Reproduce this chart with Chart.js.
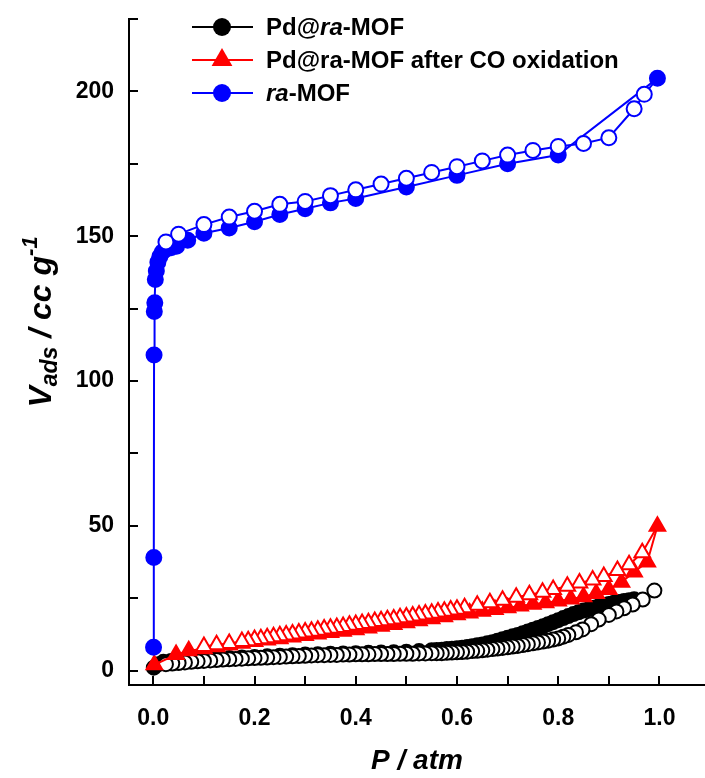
<!DOCTYPE html>
<html>
<head>
<meta charset="utf-8">
<script src="https://cdn.jsdelivr.net/npm/chart.js@4"></script>
<style>
html, body { margin: 0; padding: 0; background: #fff; }
#wrap { width: 705px; height: 778px; }
</style>
</head>
<body>
<div id="wrap"><canvas id="myChart" width="705" height="778"></canvas></div>
<script>
// axis ticks (P / atm and V / cc g-1)
var xTicks = [0, 0.1, 0.2, 0.3, 0.4, 0.5, 0.6, 0.7, 0.8, 0.9, 1.0]
var xLabels = ['0.0', '', '0.2', '', '0.4', '', '0.6', '', '0.8', '', '1.0']
var yTicks = [0, 25, 50, 75, 100, 125, 150, 175, 200, 225]
var yLabels = ['0', '', '50', '', '100', '', '150', '', '200', '']

// ra-MOF, adsorption (filled) and desorption (open)
var raAdsP = [0.0005, 0.001, 0.0015, 0.002, 0.003, 0.004, 0.006, 0.009, 0.013, 0.018, 0.025, 0.035, 0.046, 0.068, 0.1, 0.15, 0.2, 0.25, 0.3, 0.35, 0.4, 0.5, 0.6, 0.7, 0.8, 0.996]
var raAdsV = [8, 39, 109, 124, 127, 135, 138, 141, 143, 144.5, 145.5, 146, 146.5, 148.6, 151, 152.8, 155, 157.5, 159.5, 161.5, 163, 167, 171, 175, 178, 204.5]
var raDesP = [0.996, 0.97, 0.95, 0.9, 0.85, 0.8, 0.75, 0.7, 0.65, 0.6, 0.55, 0.5, 0.45, 0.4, 0.35, 0.3, 0.25, 0.2, 0.15, 0.1, 0.05, 0.025]
var raDesV = [204.5, 199, 194, 184, 182, 181, 179.6, 178, 176, 174, 172, 170, 168, 166, 164, 162, 161, 158.6, 156.6, 154, 150.7, 148]

// Pd@ra-MOF after CO oxidation
var coAdsP = [0.002, 0.045, 0.07, 0.1, 0.125, 0.15, 0.175, 0.2, 0.225, 0.25, 0.275, 0.3, 0.325, 0.35, 0.375, 0.4, 0.425, 0.45, 0.475, 0.5, 0.525, 0.55, 0.575, 0.6, 0.625, 0.65, 0.675, 0.7, 0.725, 0.75, 0.775, 0.8, 0.825, 0.85, 0.875, 0.9, 0.925, 0.95, 0.976, 0.996]
var coAdsV = [2, 5.5, 6.8, 7.5, 8.2, 8.8, 9.4, 10, 10.5, 11, 11.6, 12.1, 12.6, 13.1, 13.6, 14.1, 14.7, 15.3, 15.9, 16.5, 17.2, 17.9, 18.6, 19.3, 19.9, 20.5, 21.1, 21.7, 22.3, 22.9, 23.4, 24, 24.7, 25.5, 26.6, 28, 30.5, 34, 37.5, 49.8]
var coDesP = [0.996, 0.966, 0.94, 0.917, 0.89, 0.868, 0.842, 0.818, 0.79, 0.769, 0.743, 0.717, 0.69, 0.665, 0.64, 0.615, 0.6,
  0.5875, 0.575, 0.5625, 0.55, 0.5375, 0.525, 0.5125, 0.5, 0.4875, 0.475, 0.4625, 0.45, 0.4375, 0.425, 0.4125, 0.4,
  0.3875, 0.375, 0.3625, 0.35, 0.3375, 0.325, 0.3125, 0.3, 0.2875, 0.275, 0.2625, 0.25, 0.2375, 0.225, 0.2125, 0.2,
  0.1875, 0.175, 0.15, 0.125, 0.1]
var coDesV = [49.8, 40.7, 36.5, 34.5, 32.5, 31.3, 30.2, 29.1, 28, 27, 26.2, 25.3, 24.3, 23.4, 22.5, 21.7, 21.2,
  20.9, 20.5, 20.2, 19.8, 19.5, 19.2, 18.8, 18.5, 18.2, 17.8, 17.5, 17.2, 16.9, 16.5, 16.2, 15.9,
  15.6, 15.2, 14.9, 14.6, 14.3, 13.9, 13.6, 13.3, 13, 12.6, 12.3, 12, 11.7, 11.3, 11, 10.7,
  10.3, 10, 9.3, 8.9, 8.3]

// Pd@ra-MOF
var pdAdsP = [0.001, 0.01, 0.02, 0.035, 0.05, 0.075, 0.1, 0.125, 0.15, 0.175, 0.2, 0.225, 0.25, 0.275, 0.3, 0.325, 0.35, 0.375, 0.4, 0.425, 0.45, 0.475, 0.5, 0.525, 0.55,
  0.56, 0.57, 0.58, 0.59, 0.6, 0.61, 0.62, 0.63, 0.64, 0.65, 0.66, 0.67, 0.68, 0.69, 0.7, 0.71, 0.72, 0.73, 0.74, 0.75,
  0.76, 0.77, 0.78, 0.79, 0.8, 0.81, 0.82, 0.83, 0.84, 0.85, 0.86, 0.87, 0.88, 0.89, 0.9, 0.91, 0.92, 0.93, 0.94, 0.95]
var pdAdsV = [1, 2.2, 3, 3.3, 3.5, 3.7, 3.9, 4.1, 4.3, 4.5, 4.7, 4.9, 5.1, 5.3, 5.5, 5.6, 5.8, 5.9, 6, 6.1, 6.2, 6.3, 6.5, 6.7, 7,
  7.1, 7.2, 7.4, 7.5, 7.7, 7.9, 8.1, 8.4, 8.7, 9, 9.4, 9.8, 10.3, 10.8, 11.3, 11.8, 12.3, 12.9, 13.5, 14.1,
  14.7, 15.3, 16, 16.7, 17.4, 18.1, 18.8, 19.5, 20.1, 20.7, 21.2, 21.7, 22.2, 22.6, 23, 23.4, 23.7, 24, 24.3, 24.6]
var pdDesP = [0.99, 0.967, 0.947, 0.93, 0.915, 0.9, 0.88, 0.865, 0.848, 0.835, 0.82, 0.81,
  0.8, 0.79, 0.78, 0.77, 0.76, 0.75, 0.74, 0.73, 0.72, 0.71, 0.7, 0.69, 0.68, 0.67, 0.66, 0.65, 0.64, 0.63, 0.62, 0.61, 0.6, 0.59, 0.58, 0.57, 0.56, 0.55,
  0.5375, 0.525, 0.5125, 0.5, 0.4875, 0.475, 0.4625, 0.45, 0.4375, 0.425, 0.4125, 0.4, 0.3875, 0.375, 0.3625, 0.35, 0.3375, 0.325, 0.3125, 0.3,
  0.2875, 0.275, 0.2625, 0.25, 0.2375, 0.225, 0.2125, 0.2, 0.1875, 0.175, 0.1625, 0.15, 0.1375, 0.125, 0.1125, 0.1, 0.0875, 0.075, 0.0625, 0.05, 0.0375, 0.025]
var pdDesV = [27.6, 24.5, 22.8, 21.5, 20.4, 19.2, 17.6, 16, 14.2, 13.2, 12.3, 11.7,
  11.1, 10.7, 10.3, 10, 9.7, 9.4, 9.1, 8.8, 8.5, 8.3, 8, 7.8, 7.6, 7.4, 7.2, 7, 6.8, 6.7, 6.5, 6.4, 6.3, 6.2, 6.1, 6, 6, 6,
  5.9, 5.9, 5.8, 5.8, 5.8, 5.7, 5.7, 5.7, 5.7, 5.6, 5.6, 5.6, 5.5, 5.5, 5.4, 5.4, 5.3, 5.3, 5.2, 5.1,
  5, 4.9, 4.8, 4.7, 4.6, 4.5, 4.4, 4.3, 4.2, 4.1, 4, 3.9, 3.8, 3.6, 3.5, 3.3, 3.2, 3, 2.8, 2.6, 2.4, 2.2]

var FONT = "'Liberation Sans', Arial, Helvetica, sans-serif"

function pts(P, V) {
    return P.map(function(p, i) { return {x: p, y: V[i]} })
}

// first point of a desorption branch is the top of the adsorption branch, keep it filled
function hideFirst(P, r) {
    return P.map(function(p, i) { return i == 0 ? 0 : r })
}

function series(label, P, V, color, style, r, open, order, radii) {
    return {
        label: label,
        data: pts(P, V),
        borderColor: color,
        borderWidth: 2,
        pointStyle: style,
        pointRadius: radii || r,
        pointHoverRadius: r,
        pointBorderWidth: 2,
        pointBorderColor: color,
        pointBackgroundColor: open ? '#fff' : color,
        tension: 0,
        fill: false,
        clip: false,
        order: order
    }
}

// inward tick marks on both axes
var innerTicks = {
    id: 'innerTicks',
    afterDatasetsDraw: function(chart) {
        var ctx = chart.ctx
        var xs = chart.scales.x, ys = chart.scales.y
        ctx.save()
        ctx.strokeStyle = '#000'
        ctx.lineWidth = 2
        ctx.beginPath()
        xTicks.forEach(function(v) {
            var px = Math.round(xs.getPixelForValue(v))
            ctx.moveTo(px, ys.bottom)
            ctx.lineTo(px, ys.bottom - 9)
        })
        yTicks.forEach(function(v) {
            var py = Math.round(ys.getPixelForValue(v))
            ctx.moveTo(xs.left, py)
            ctx.lineTo(xs.left + 9, py)
        })
        ctx.stroke()
        ctx.restore()
    }
}

function marker(ctx, style, x, y, r, color) {
    ctx.fillStyle = color
    ctx.beginPath()
    if (style == 'triangle') {
        ctx.moveTo(x, y - r)
        ctx.lineTo(x + r * 0.866, y + r * 0.5)
        ctx.lineTo(x - r * 0.866, y + r * 0.5)
        ctx.closePath()
    } else {
        ctx.arc(x, y, r, 0, Math.PI * 2)
    }
    ctx.fill()
}

function drawParts(ctx, parts, x, y, size) {
    parts.forEach(function(p) {
        ctx.font = (p[1] ? 'italic ' : '') + 'bold ' + size + 'px ' + FONT
        ctx.fillText(p[0], x, y)
        x += ctx.measureText(p[0]).width
    })
}

var legendRows = [
    {parts: [['Pd@', false], ['ra', true], ['-MOF', false]], color: '#000000', style: 'circle', r: 9},
    {parts: [['Pd@ra-MOF after CO oxidation', false]], color: '#ff0000', style: 'triangle', r: 12},
    {parts: [['ra', true], ['-MOF', false]], color: '#0000ff', style: 'circle', r: 9}
]

var legendAndTitle = {
    id: 'legendAndTitle',
    afterDraw: function(chart) {
        var ctx = chart.ctx
        ctx.save()
        // legend
        legendRows.forEach(function(row, i) {
            var y = 27 + i * 33
            ctx.strokeStyle = row.color
            ctx.lineWidth = 2
            ctx.beginPath()
            ctx.moveTo(192, y)
            ctx.lineTo(253, y)
            ctx.stroke()
            marker(ctx, row.style, 222, y, row.r, row.color)
            ctx.fillStyle = '#000'
            ctx.textBaseline = 'middle'
            ctx.textAlign = 'left'
            drawParts(ctx, row.parts, 266, y + 1, 24)
        })

        // y title: V_ads / cc g^-1
        ctx.translate(40, 322)
        ctx.rotate(-Math.PI / 2)
        ctx.textBaseline = 'alphabetic'
        ctx.textAlign = 'left'
        var pieces = [
            {t: 'V', s: 32, dy: 0},
            {t: 'ads', s: 23, dy: 6},
            {t: ' / cc g', s: 32, dy: 0},
            {t: '-1', s: 22, dy: -14}
        ]
        var total = 0
        pieces.forEach(function(p) {
            ctx.font = 'italic bold ' + p.s + 'px ' + FONT
            p.w = ctx.measureText(p.t).width
            total += p.w
        })
        var x = -total / 2
        ctx.fillStyle = '#000'
        pieces.forEach(function(p) {
            ctx.font = 'italic bold ' + p.s + 'px ' + FONT
            ctx.fillText(p.t, x, 11 + p.dy)
            x += p.w
        })
        ctx.restore()
    }
}

var myChart = document.getElementById('myChart').getContext('2d')

var chart = new Chart(myChart, {
    type: 'line',
    data: {
        datasets: [
            series('ra-MOF', raAdsP, raAdsV, '#0000ff', 'circle', 7.5, false, 1),
            series('ra-MOF desorption', raDesP, raDesV, '#0000ff', 'circle', 7.5, true, 0, hideFirst(raDesP, 7.5)),
            series('Pd@ra-MOF after CO oxidation', coAdsP, coAdsV, '#ff0000', 'triangle', 9, false, 3),
            series('Pd@ra-MOF after CO oxidation desorption', coDesP, coDesV, '#ff0000', 'triangle', 9, true, 2, hideFirst(coDesP, 9)),
            series('Pd@ra-MOF', pdAdsP, pdAdsV, '#000000', 'circle', 7, false, 5),
            series('Pd@ra-MOF desorption', pdDesP, pdDesV, '#000000', 'circle', 7, true, 4)
        ]
    },
    options: {
        responsive: false,
        animation: false,
        devicePixelRatio: 1,
        layout: {autoPadding: false, padding: {top: 19, right: 0, left: 0, bottom: 0}},
        plugins: {
            legend: {display: false},
            tooltip: {enabled: false}
        },
        scales: {
            x: {
                type: 'linear',
                min: -0.048,
                max: 1.09,
                afterBuildTicks: function(scale) {
                    scale.ticks = xTicks.map(function(v) { return {value: v} })
                },
                afterFit: function(scale) {
                    scale.height = 93
                    scale.paddingLeft = 0
                    scale.paddingRight = 0
                },
                grid: {display: true, drawOnChartArea: false, drawTicks: false},
                border: {display: true, color: '#000', width: 2},
                ticks: {
                    autoSkip: false,
                    maxRotation: 0,
                    padding: 20,
                    color: '#000',
                    font: {family: FONT, size: 23, weight: 'bold'},
                    callback: function(v, i) { return xLabels[i] }
                },
                title: {
                    display: true,
                    text: 'P / atm',
                    color: '#000',
                    padding: {top: 0, bottom: 0},
                    font: {family: FONT, size: 28, weight: 'bold', style: 'italic'}
                }
            },
            y: {
                type: 'linear',
                min: -5,
                max: 225,
                afterBuildTicks: function(scale) {
                    scale.ticks = yTicks.map(function(v) { return {value: v} })
                },
                afterFit: function(scale) {
                    scale.width = 129
                    scale.paddingTop = 0
                    scale.paddingBottom = 0
                },
                grid: {display: true, drawOnChartArea: false, drawTicks: false},
                border: {display: true, color: '#000', width: 2},
                ticks: {
                    autoSkip: false,
                    padding: 15,
                    color: '#000',
                    font: {family: FONT, size: 23, weight: 'bold'},
                    callback: function(v, i) { return yLabels[i] }
                }
            }
        }
    },
    plugins: [innerTicks, legendAndTitle]
})
</script>
</body>
</html>
